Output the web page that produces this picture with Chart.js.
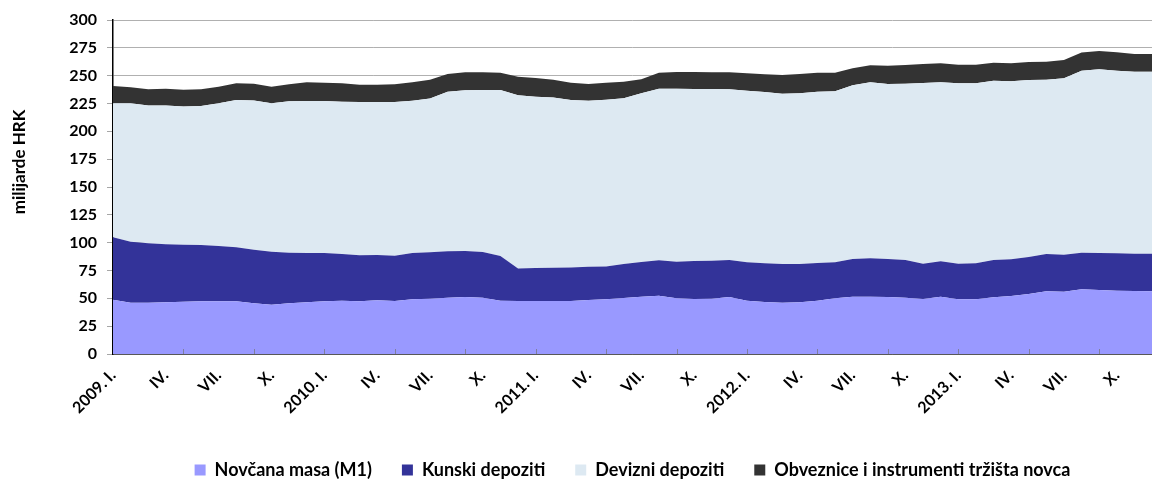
<!DOCTYPE html>
<html>
<head>
<meta charset="utf-8">
<script src="https://cdn.jsdelivr.net/npm/chart.js@4/dist/chart.umd.min.js"></script>
<style>
  html, body { margin: 0; padding: 0; background: #fff; }
  #wrap { width: 1152px; height: 481px; }
</style>
</head>
<body>
<div id="wrap"><canvas id="myAreaChart"></canvas></div>
<script>
// months 2009. I. - 2013. XII.
var years = [2009, 2010, 2011, 2012, 2013];
var romans = ['I.', 'II.', 'III.', 'IV.', 'V.', 'VI.', 'VII.', 'VIII.', 'IX.', 'X.', 'XI.', 'XII.'];
var axisTitle = 'milijarde HRK';

// milijarde HRK
var novcanaMasa = [48.8, 46.1, 46.1, 46.4, 47.0, 47.3, 47.3, 47.3, 45.5, 44.3, 45.5, 46.4,
                   47.3, 47.9, 47.3, 48.2, 47.6, 49.1, 49.7, 50.6, 51.2, 50.6, 47.9, 47.6,
                   47.6, 47.6, 47.6, 48.5, 49.1, 50.3, 51.5, 52.4, 50.0, 49.4, 49.7, 51.2,
                   47.9, 46.7, 46.1, 46.4, 47.9, 50.0, 51.5, 51.5, 51.2, 50.6, 49.4, 51.5,
                   49.1, 49.1, 50.9, 52.1, 53.9, 56.3, 56.0, 58.1, 57.5, 56.9, 56.6, 56.3];
var kunskiDepoziti = [56.0, 54.8, 53.3, 52.1, 51.2, 50.6, 49.7, 48.5, 48.2, 47.6, 45.5, 44.3,
                      43.4, 41.9, 41.3, 40.7, 40.7, 41.6, 41.6, 41.6, 41.3, 41.0, 40.1, 29.3,
                      29.6, 29.9, 30.2, 29.9, 29.6, 30.5, 31.1, 31.7, 32.9, 34.1, 34.1, 33.2,
                      34.4, 34.7, 34.7, 34.4, 33.8, 32.3, 33.8, 34.4, 34.1, 33.8, 31.7, 31.7,
                      32.0, 32.3, 33.5, 32.9, 33.2, 33.5, 33.2, 32.9, 33.2, 33.5, 33.5, 33.8];
var devizniDepoziti = [120.4, 124.3, 123.7, 124.6, 124.0, 124.9, 128.2, 132.3, 134.1, 133.3, 136.0, 136.5,
                       136.5, 136.8, 137.7, 137.4, 138.0, 136.8, 138.3, 143.4, 144.3, 145.5, 149.1, 155.4,
                       153.9, 153.0, 150.3, 149.1, 149.7, 149.0, 151.5, 154.2, 155.4, 154.5, 154.2, 153.3,
                       154.2, 153.9, 153.0, 153.3, 153.9, 153.6, 156.0, 158.1, 157.2, 158.4, 162.3, 160.8,
                       162.0, 161.7, 161.1, 159.9, 159.0, 156.6, 158.4, 163.5, 165.0, 164.1, 163.5, 163.5];
var obveznice = [15.5, 14.3, 14.6, 15.2, 15.2, 14.9, 14.9, 15.0, 15.0, 14.9, 15.2, 16.8,
                 16.5, 16.5, 15.6, 15.6, 15.9, 16.5, 16.8, 15.9, 16.2, 15.9, 15.6, 16.8,
                 16.8, 15.9, 15.6, 15.0, 15.3, 14.8, 12.6, 14.4, 15.0, 15.3, 15.0, 15.3,
                 15.6, 15.9, 16.8, 17.4, 17.1, 16.8, 15.3, 15.3, 16.5, 16.8, 17.1, 17.1,
                 16.8, 16.8, 16.2, 16.2, 16.2, 16.2, 16.5, 16.2, 16.5, 16.5, 15.9, 15.9];

var labels = [];
for (var y = 0; y < years.length; y++) {
    for (var m = 0; m < romans.length; m++) {
        labels.push(m == 0 ? years[y] + '. ' + romans[m] : romans[m]);
    }
}

var fontFamily = 'Lato, "Open Sans", sans-serif';

// small tick marks on the x axis, every 4th month, drawn upward like the original
var innerTicks = {
    id: 'innerTicks',
    afterDatasetsDraw: function (chart) {
        var ctx = chart.ctx, xs = chart.scales.x, bottom = chart.chartArea.bottom;
        ctx.save();
        ctx.strokeStyle = '#7f7f9f';
        ctx.lineWidth = 1;
        for (var i = 4; i < labels.length; i += 4) {
            var px = Math.round(xs.getPixelForValue(i)) + 0.5;
            ctx.beginPath();
            ctx.moveTo(px, bottom);
            ctx.lineTo(px, bottom - 5);
            ctx.stroke();
        }
        ctx.restore();
    }
};

// y axis title, sits a bit above the middle of the axis in the original
var yTitle = {
    id: 'yTitle',
    afterDraw: function (chart) {
        var ctx = chart.ctx, area = chart.chartArea;
        ctx.save();
        ctx.translate(20, area.top + (area.bottom - area.top) * 0.425);
        ctx.rotate(-Math.PI / 2);
        ctx.fillStyle = '#000';
        ctx.font = 'bold 17px ' + fontFamily;
        ctx.textAlign = 'center';
        ctx.textBaseline = 'middle';
        ctx.fillText(axisTitle, 0, 0);
        ctx.restore();
    }
};

// keep the legend box short so the items sit low, near the bottom edge
var legendHeight = {
    id: 'legendHeight',
    beforeInit: function (chart) {
        var fit = chart.legend.fit;
        chart.legend.fit = function () {
            fit.call(this);
            this.height = 50;
        };
    }
};

var config = {
    type: 'line',
    data: {
        labels: labels,
        datasets: [{
            label: 'Novčana masa (M1)',
            data: novcanaMasa,
            backgroundColor: '#9999ff',
            fill: 'origin'
        }, {
            label: 'Kunski depoziti',
            data: kunskiDepoziti,
            backgroundColor: '#333399',
            fill: '-1'
        }, {
            label: 'Devizni depoziti',
            data: devizniDepoziti,
            backgroundColor: '#dde9f2',
            fill: '-1'
        }, {
            label: 'Obveznice i instrumenti tržišta novca',
            data: obveznice,
            backgroundColor: '#333333',
            fill: '-1'
        }]
    },
    options: {
        responsive: true,
        maintainAspectRatio: false,
        animation: false,
        elements: {
            line: { tension: 0, borderWidth: 0 },
            point: { radius: 0 }
        },
        layout: { padding: { top: 20, left: 0, right: 0, bottom: 0 } },
        plugins: {
            tooltip: { enabled: false },
            legend: {
                position: 'bottom',
                fullSize: false,
                labels: {
                    boxWidth: 11,
                    boxHeight: 11,
                    padding: 30,
                    color: '#000',
                    font: { family: fontFamily, size: 18, weight: 'bold' }
                }
            }
        },
        scales: {
            x: {
                offset: false,
                grid: { display: true, drawOnChartArea: false, drawTicks: false },
                border: { color: '#000', width: 1.5 },
                ticks: {
                    autoSkip: false,
                    maxRotation: 45,
                    minRotation: 45,
                    padding: 12,
                    color: '#000',
                    font: { family: fontFamily, size: 16, weight: 'bold' },
                    callback: function (value, index) {
                        return index % 3 == 0 ? labels[index] : '';
                    }
                },
                afterFit: function (scale) {
                    scale.height = 77;
                    scale.paddingRight = 0;
                    scale.paddingLeft = 0;
                }
            },
            y: {
                stacked: true,
                min: 0,
                max: 300,
                border: { color: '#000', width: 1.5 },
                grid: {
                    color: '#b0b0b0',
                    borderDash: [2, 1],
                    tickBorderDash: [],
                    tickLength: 6,
                    tickColor: '#a6a6a6'
                },
                ticks: {
                    stepSize: 25,
                    padding: 10,
                    color: '#000',
                    font: { family: fontFamily, size: 16, weight: 'bold' }
                },
                afterFit: function (scale) { scale.width = 113; }
            }
        }
    },
    plugins: [innerTicks, yTitle, legendHeight]
};

var ctx = document.getElementById('myAreaChart').getContext('2d');
var myAreaChart = new Chart(ctx, config);
</script>
</body>
</html>
